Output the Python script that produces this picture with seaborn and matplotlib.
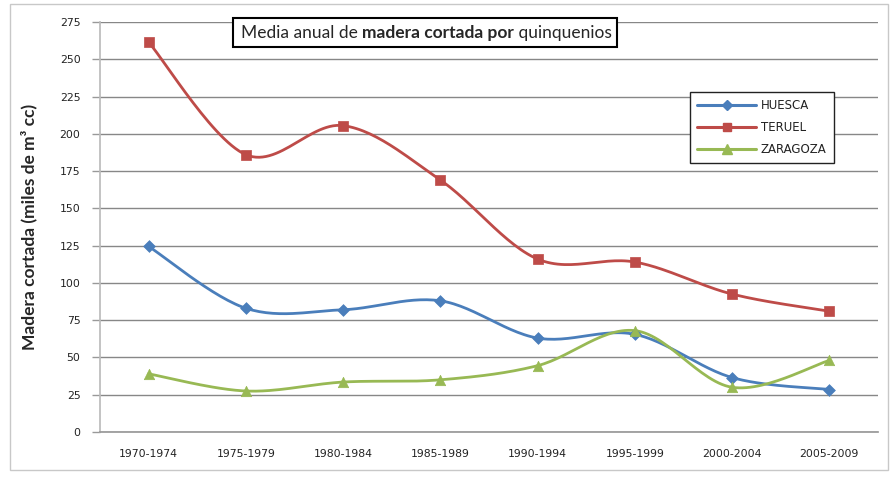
import matplotlib
matplotlib.use("Agg")
import matplotlib.pyplot as plt
import seaborn as sns
import pandas as pd
import numpy as np
from matplotlib.lines import Line2D
from matplotlib.patches import Rectangle

# --- data ---
periods = ["1970-1974", "1975-1979", "1980-1984", "1985-1989",
           "1990-1994", "1995-1999", "2000-2004", "2005-2009"]
huesca = [124.5, 83, 82, 88, 63, 65.5, 36.5, 28.5]
teruel = [261.5, 186, 205.5, 169, 116, 114, 92.5, 81]
zaragoza = [39, 27.5, 33.5, 35, 44.5, 68, 30, 48]
y_ticks = list(range(0, 276, 25))

series = {"HUESCA": huesca, "TERUEL": teruel, "ZARAGOZA": zaragoza}
colors = {"HUESCA": "#4A7EBB", "TERUEL": "#BE4B48", "ZARAGOZA": "#98B954"}
markers = {"HUESCA": "D", "TERUEL": "s", "ZARAGOZA": "^"}
msizes = {"HUESCA": 6, "TERUEL": 6.5, "ZARAGOZA": 7.5}


def excel_smooth(y, steps=30):
    """Bezier smoothing like Excel's 'smoothed line' option."""
    x = np.arange(len(y), dtype=float)
    p = np.column_stack([x, np.asarray(y, dtype=float)])
    p = np.vstack([p[0], p, p[-1]])
    out = []
    t = np.linspace(0, 1, steps)[:, None]
    for i in range(1, len(p) - 2):
        b0 = p[i]
        b3 = p[i + 1]
        b1 = b0 + (p[i + 1] - p[i - 1]) / 6
        b2 = b3 - (p[i + 2] - p[i]) / 6
        seg = ((1 - t) ** 3) * b0 + 3 * ((1 - t) ** 2) * t * b1 \
            + 3 * (1 - t) * t ** 2 * b2 + t ** 3 * b3
        out.append(seg if i == 1 else seg[1:])
    return np.vstack(out)


rows = []
curves = []
for name, vals in series.items():
    for i, v in enumerate(vals):
        rows.append({"Zona": name, "pos": i, "Madera": v})
    c = excel_smooth(vals)
    curves.append(pd.DataFrame({"Zona": name, "x": c[:, 0], "y": c[:, 1],
                                "order": np.arange(len(c))}))
df = pd.DataFrame(rows)
smooth = pd.concat(curves, ignore_index=True)

sns.set_theme(style="white")
plt.rcParams["font.family"] = ["DejaVu Sans"]

W, H = 892, 482
fig = plt.figure(figsize=(W / 100, H / 100), dpi=100)
ax = fig.add_axes([100 / W, 1 - 432 / H, 778 / W, 410 / H])

sns.lineplot(data=smooth, x="x", y="y", hue="Zona", palette=colors,
             sort=False, estimator=None, units="Zona", linewidth=2.0,
             legend=False, ax=ax, zorder=3)
for name in series:
    sub = df[df["Zona"] == name]
    sns.scatterplot(data=sub, x="pos", y="Madera", color=colors[name],
                    marker=markers[name], s=msizes[name] ** 2,
                    edgecolor=colors[name], linewidth=0.5, legend=False,
                    ax=ax, zorder=4)

ax.set_xlim(-0.5, len(periods) - 0.5)
ax.set_ylim(0, 275)
ax.set_yticks(y_ticks)
ax.set_yticklabels([str(v) for v in y_ticks], fontsize=7.8, color="#222222")
ax.set_xticks(range(len(periods)))
ax.set_xticklabels(periods, fontsize=7.8, color="#222222")
ax.set_xticks(np.arange(-0.5, len(periods), 1.0), minor=True)
ax.tick_params(axis="x", which="major", length=0, pad=12)
ax.tick_params(axis="x", which="minor", length=5, color="#999999", width=1, direction="out")
ax.tick_params(axis="y", length=6, color="#999999", width=1, direction="out", pad=8,
               left=True)
ax.yaxis.grid(True, color="#878787", linewidth=1)
ax.set_axisbelow(True)
for s in ["top", "right"]:
    ax.spines[s].set_visible(False)
ax.spines["left"].set_color("#bbbbbb")
ax.spines["bottom"].set_color("#999999")
ax.set_xlabel("")
ax.set_ylabel("Madera cortada (miles de m³ cc)", fontsize=12.5, fontweight="bold",
              family=["Lato", "DejaVu Sans"], labelpad=16)

handles = [Line2D([0], [0], color=colors[n], marker=markers[n],
                  markersize=msizes[n] - 1, linewidth=2.2) for n in series]
leg = ax.legend(handles, list(series.keys()), loc="upper left",
                bbox_to_anchor=((690 - 100) / 778, (432 - 92) / 410),
                fontsize=8.5, frameon=True, fancybox=False, handlelength=5,
                labelspacing=0.75, borderpad=0.6, handletextpad=0.4,
                borderaxespad=0)
leg.get_frame().set_edgecolor("#222222")
leg.get_frame().set_linewidth(1)
leg.get_frame().set_facecolor("white")
leg.get_frame().set_alpha(1)
for txt in leg.get_texts():
    txt.set_color("#222222")

# title box with mixed weights
fig.patches.append(Rectangle((233 / W, 1 - 47 / H), 384 / W, 29 / H,
                             transform=fig.transFigure, facecolor="white",
                             edgecolor="black", linewidth=1.5, zorder=5))
ty = 1 - 33 / H
tfont = ["Lato", "DejaVu Sans"]
t1 = fig.text(241 / W, ty, "Media anual de ", fontsize=12.5, va="center",
              ha="left", zorder=6, family=tfont)
t2 = fig.text(0, 0, "madera cortada por", fontsize=12.5, fontweight="bold",
              va="center", ha="left", zorder=6, family=tfont)
t3 = fig.text(0, 0, " quinquenios", fontsize=12.5, va="center", ha="left",
              zorder=6, family=tfont)
fig.canvas.draw()
r = fig.canvas.get_renderer()
inv = fig.transFigure.inverted()
x = inv.transform(t1.get_window_extent(r))[1][0]
t2.set_position((x, ty))
fig.canvas.draw()
x = inv.transform(t2.get_window_extent(r))[1][0]
t3.set_position((x, ty))

# outer chart frame
fig.patches.append(Rectangle((10 / W, 1 - 470 / H), 878 / W, 466 / H,
                             transform=fig.transFigure, facecolor="none",
                             edgecolor="#c8c8c8", linewidth=1, zorder=0))

fig.savefig("out.png", dpi=100)
